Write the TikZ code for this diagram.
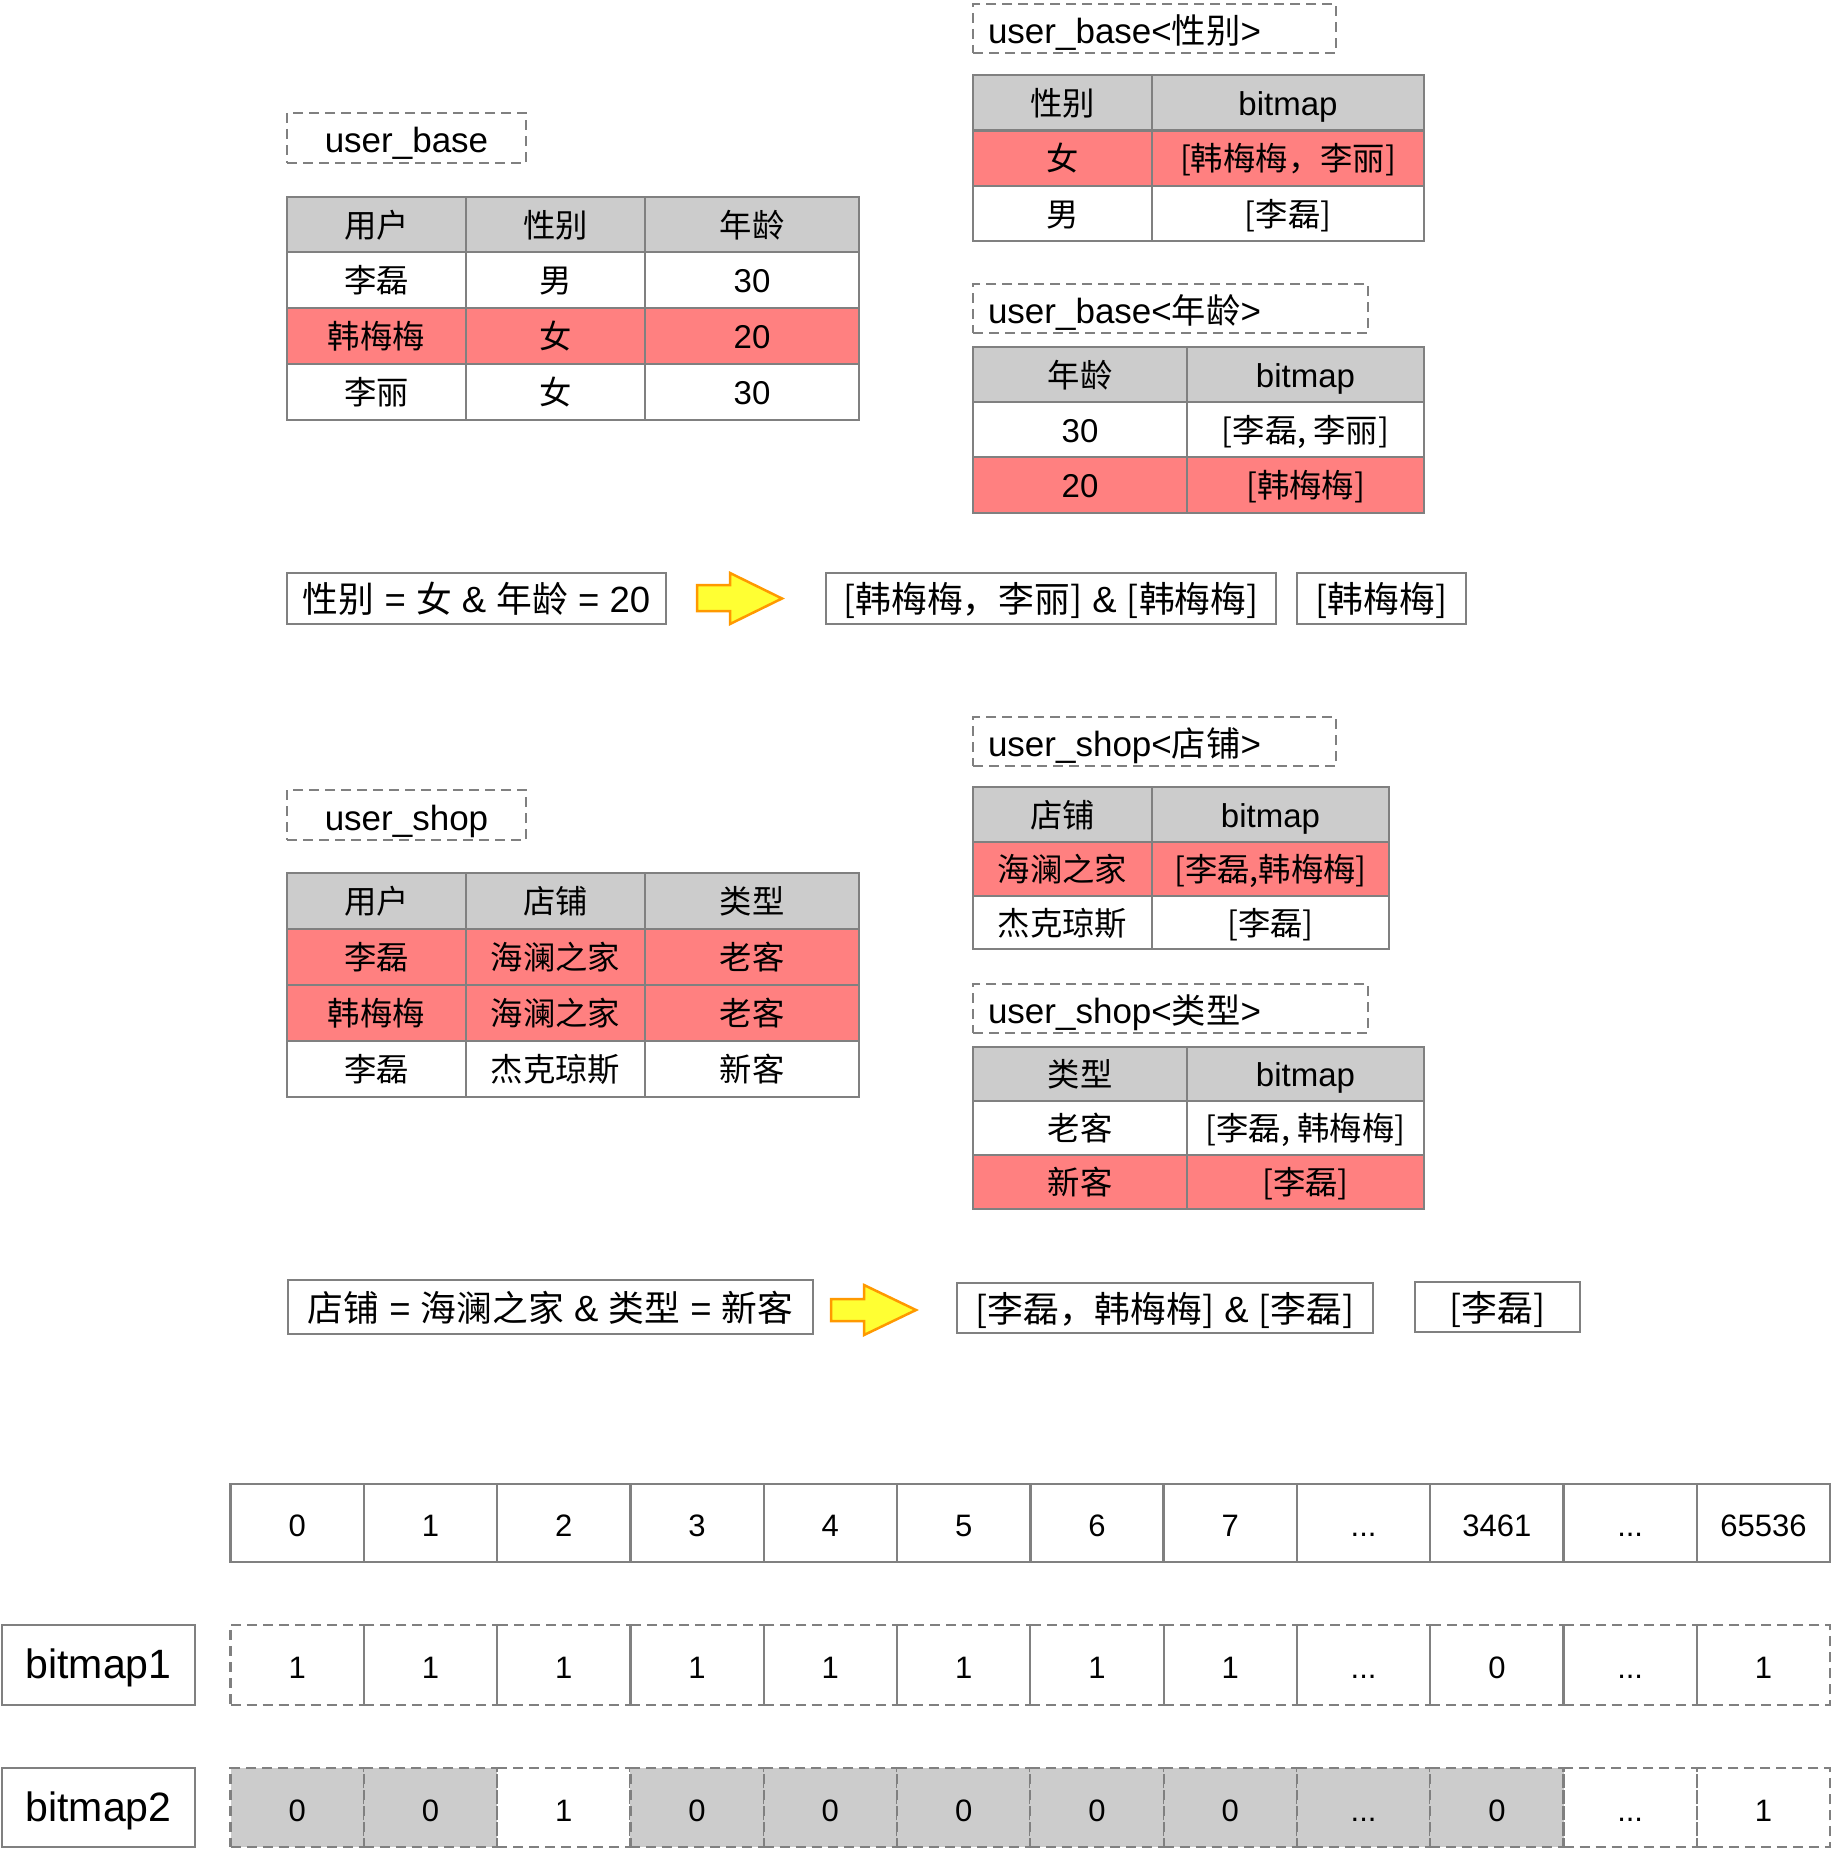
\documentclass[tikz,border=0pt]{standalone}
\usepackage{fontspec}
\setmainfont{Liberation Sans}
\newfontfamily\zhfont{Noto Sans CJK SC}[Scale=0.98]
\definecolor{lineg}{HTML}{808080}
\definecolor{hdrg}{HTML}{CCCCCC}
\definecolor{hotr}{HTML}{FF8080}
\definecolor{arrowy}{HTML}{FFFF33}
\definecolor{arrowo}{HTML}{FF9900}
\newcommand\zht[1]{{\zhfont #1}}
\newcommand\tfs{\fontsize{33}{38}\selectfont}
\newcommand\lfs{\fontsize{35}{40}\selectfont}
\newcommand\qfs{\fontsize{36.5}{42}\selectfont}
\newcommand\bfs{\fontsize{31}{36}\selectfont}
\newcommand\mfs{\fontsize{41}{47}\selectfont}
\tikzset{
  cellbase/.style={draw=lineg, line width=2.4pt, inner sep=0pt, outer sep=0pt, anchor=north west, text=black},
  tcell/.style={cellbase, font=\tfs, fill=white, text height=25pt, text depth=0pt},
  thdr/.style={tcell, fill=hdrg},
  thot/.style={tcell, fill=hotr},
  dashbase/.style={draw=lineg, line width=2.2pt, dash pattern=on 10pt off 6pt, inner sep=0pt, outer sep=0pt, anchor=north west, text=black},
  dlabel/.style={dashbase, font=\lfs, text height=30pt, text depth=0pt},
  qbox/.style={cellbase, font=\qfs, fill=white, text height=28.5pt, text depth=0pt},
  bidx/.style={cellbase, font=\bfs, fill=white, text height=27.3pt, text depth=0pt},
  bbit/.style={dashbase, font=\bfs, text height=27.3pt, text depth=0pt},
  bbitg/.style={bbit, fill=hdrg},
  bname/.style={cellbase, font=\mfs, fill=white, text height=27.5pt, text depth=0pt},
  bigarrow/.style={fill=arrowy, draw=arrowo, line width=2.5pt, line join=miter},
}
% generic cell: style, name, x1, y1, x2, y2, text
\newcommand\cellat[7]{\node[#1, minimum width={#5-#3}, minimum height={#6-#4}] (#2) at (#3,#4) {#7};}
% left-aligned dashed label: name, x1, y1, x2, y2, text
\newcommand\rlabel[6]{\node[dlabel, inner xsep=15pt, minimum height={#5-#3}] (#1) at (#2,#3) {\makebox[\dimexpr #4pt-#2pt-30pt\relax][l]{#6}};}
% bitmap cell: style, name, index, y1, y2, text
\newcommand\bcell[6]{\node[#1, minimum width=133.3, minimum height={#5-#4}] (#2) at ({230.5+133.3*#3},#4) {#6};}
\begin{document}
\begin{tikzpicture}[x=1pt,y=-1pt]
\useasboundingbox (0,0) rectangle (1833,1849);
\fill[white] (0,0) rectangle (1833,1849);

% ---------- user_base ----------
\cellat{dlabel}{lbUB}{287}{113}{526}{163}{user\_base}
\cellat{thdr}{ub00}{287}{197}{466}{252}{\zht{用户}}
\cellat{thdr}{ub01}{466}{197}{645}{252}{\zht{性别}}
\cellat{thdr}{ub02}{645}{197}{859}{252}{\zht{年龄}}
\cellat{tcell}{ub10}{287}{252}{466}{308}{\zht{李磊}}
\cellat{tcell}{ub11}{466}{252}{645}{308}{\zht{男}}
\cellat{tcell}{ub12}{645}{252}{859}{308}{30}
\cellat{thot}{ub20}{287}{308}{466}{364}{\zht{韩梅梅}}
\cellat{thot}{ub21}{466}{308}{645}{364}{\zht{女}}
\cellat{thot}{ub22}{645}{308}{859}{364}{20}
\cellat{tcell}{ub30}{287}{364}{466}{420}{\zht{李丽}}
\cellat{tcell}{ub31}{466}{364}{645}{420}{\zht{女}}
\cellat{tcell}{ub32}{645}{364}{859}{420}{30}

% ---------- user_base<性别> ----------
\rlabel{lbSex}{973}{4}{1336}{53}{user\_base<\zht{性别}>}
\cellat{thdr}{sx00}{973}{75}{1152}{130.5}{\zht{性别}}
\cellat{thdr}{sx01}{1152}{75}{1424}{130.5}{bitmap}
\cellat{thot}{sx10}{973}{130.5}{1152}{186}{\zht{女}}
\cellat{thot}{sx11}{1152}{130.5}{1424}{186}{\zht{[韩梅梅，李丽]}}
\cellat{tcell}{sx20}{973}{186}{1152}{241}{\zht{男}}
\cellat{tcell}{sx21}{1152}{186}{1424}{241}{\zht{[李磊]}}

% ---------- user_base<年龄> ----------
\rlabel{lbAge}{973}{284}{1368}{333}{user\_base<\zht{年龄}>}
\cellat{thdr}{ag00}{973}{347}{1187}{402}{\zht{年龄}}
\cellat{thdr}{ag01}{1187}{347}{1424}{402}{bitmap}
\cellat{tcell}{ag10}{973}{402}{1187}{457}{30}
\cellat{tcell}{ag11}{1187}{402}{1424}{457}{\zht{[李磊, 李丽]}}
\cellat{thot}{ag20}{973}{457}{1187}{513}{20}
\cellat{thot}{ag21}{1187}{457}{1424}{513}{\zht{[韩梅梅]}}

% ---------- query 1 ----------
\cellat{qbox}{q1}{287}{573}{666}{624}{\zht{性别} = \zht{女} \& \zht{年龄} = 20}
\draw[bigarrow] (697,585) -- (730,585) -- (730,573) -- (782,598.5) -- (730,624) -- (730,611) -- (697,611) -- cycle;
\cellat{qbox}{r1}{826}{573}{1276}{624}{\zht{[韩梅梅，李丽]} \& \zht{[韩梅梅]}}
\cellat{qbox}{s1}{1297}{573}{1466}{624}{\zht{[韩梅梅]}}

% ---------- user_shop ----------
\cellat{dlabel}{lbUS}{287}{790}{526}{840}{user\_shop}
\cellat{thdr}{us00}{287}{873}{466}{929}{\zht{用户}}
\cellat{thdr}{us01}{466}{873}{645}{929}{\zht{店铺}}
\cellat{thdr}{us02}{645}{873}{859}{929}{\zht{类型}}
\cellat{thot}{us10}{287}{929}{466}{985}{\zht{李磊}}
\cellat{thot}{us11}{466}{929}{645}{985}{\zht{海澜之家}}
\cellat{thot}{us12}{645}{929}{859}{985}{\zht{老客}}
\cellat{thot}{us20}{287}{985}{466}{1041}{\zht{韩梅梅}}
\cellat{thot}{us21}{466}{985}{645}{1041}{\zht{海澜之家}}
\cellat{thot}{us22}{645}{985}{859}{1041}{\zht{老客}}
\cellat{tcell}{us30}{287}{1041}{466}{1097}{\zht{李磊}}
\cellat{tcell}{us31}{466}{1041}{645}{1097}{\zht{杰克琼斯}}
\cellat{tcell}{us32}{645}{1041}{859}{1097}{\zht{新客}}

% ---------- user_shop<店铺> ----------
\rlabel{lbShop}{973}{717}{1336}{766}{user\_shop<\zht{店铺}>}
\cellat{thdr}{sh00}{973}{787}{1152}{842}{\zht{店铺}}
\cellat{thdr}{sh01}{1152}{787}{1389}{842}{bitmap}
\cellat{thot}{sh10}{973}{842}{1152}{896}{\zht{海澜之家}}
\cellat{thot}{sh11}{1152}{842}{1389}{896}{\zht{[李磊,韩梅梅]}}
\cellat{tcell}{sh20}{973}{896}{1152}{949}{\zht{杰克琼斯}}
\cellat{tcell}{sh21}{1152}{896}{1389}{949}{\zht{[李磊]}}

% ---------- user_shop<类型> ----------
\rlabel{lbType}{973}{984}{1368}{1033}{user\_shop<\zht{类型}>}
\cellat{thdr}{ty00}{973}{1047}{1187}{1101}{\zht{类型}}
\cellat{thdr}{ty01}{1187}{1047}{1424}{1101}{bitmap}
\cellat{tcell}{ty10}{973}{1101}{1187}{1155}{\zht{老客}}
\cellat{tcell}{ty11}{1187}{1101}{1424}{1155}{\zht{[李磊, 韩梅梅]}}
\cellat{thot}{ty20}{973}{1155}{1187}{1209}{\zht{新客}}
\cellat{thot}{ty21}{1187}{1155}{1424}{1209}{\zht{[李磊]}}

% ---------- query 2 ----------
\cellat{qbox}{q2}{288}{1280}{813}{1334}{\zht{店铺} = \zht{海澜之家} \& \zht{类型} = \zht{新客}}
\draw[bigarrow] (831,1299) -- (864,1299) -- (864,1285) -- (916,1310) -- (864,1335) -- (864,1321) -- (831,1321) -- cycle;
\cellat{qbox}{r2}{957}{1283}{1373}{1333}{\zht{[李磊，韩梅梅]} \& \zht{[李磊]}}
\cellat{qbox}{s2}{1415}{1282}{1580}{1332}{\zht{[李磊]}}

% ---------- bitmap index row ----------
\bcell{bidx}{ix0}{0}{1484}{1562}{0}
\bcell{bidx}{ix1}{1}{1484}{1562}{1}
\bcell{bidx}{ix2}{2}{1484}{1562}{2}
\bcell{bidx}{ix3}{3}{1484}{1562}{3}
\bcell{bidx}{ix4}{4}{1484}{1562}{4}
\bcell{bidx}{ix5}{5}{1484}{1562}{5}
\bcell{bidx}{ix6}{6}{1484}{1562}{6}
\bcell{bidx}{ix7}{7}{1484}{1562}{7}
\bcell{bidx}{ix8}{8}{1484}{1562}{...}
\bcell{bidx}{ix9}{9}{1484}{1562}{3461}
\bcell{bidx}{ix10}{10}{1484}{1562}{...}
\bcell{bidx}{ix11}{11}{1484}{1562}{65536}

% ---------- bitmap1 ----------
\cellat{bname}{bm1}{2}{1625}{195}{1705}{bitmap1}
\bcell{bbit}{a0}{0}{1625}{1705}{1}
\bcell{bbit}{a1}{1}{1625}{1705}{1}
\bcell{bbit}{a2}{2}{1625}{1705}{1}
\bcell{bbit}{a3}{3}{1625}{1705}{1}
\bcell{bbit}{a4}{4}{1625}{1705}{1}
\bcell{bbit}{a5}{5}{1625}{1705}{1}
\bcell{bbit}{a6}{6}{1625}{1705}{1}
\bcell{bbit}{a7}{7}{1625}{1705}{1}
\bcell{bbit}{a8}{8}{1625}{1705}{...}
\bcell{bbit}{a9}{9}{1625}{1705}{0}
\bcell{bbit}{a10}{10}{1625}{1705}{...}
\bcell{bbit}{a11}{11}{1625}{1705}{1}

% ---------- bitmap2 ----------
\cellat{bname}{bm2}{2}{1768}{195}{1847}{bitmap2}
\bcell{bbitg}{b0}{0}{1768}{1847}{0}
\bcell{bbitg}{b1}{1}{1768}{1847}{0}
\bcell{bbit}{b2}{2}{1768}{1847}{1}
\bcell{bbitg}{b3}{3}{1768}{1847}{0}
\bcell{bbitg}{b4}{4}{1768}{1847}{0}
\bcell{bbitg}{b5}{5}{1768}{1847}{0}
\bcell{bbitg}{b6}{6}{1768}{1847}{0}
\bcell{bbitg}{b7}{7}{1768}{1847}{0}
\bcell{bbitg}{b8}{8}{1768}{1847}{...}
\bcell{bbitg}{b9}{9}{1768}{1847}{0}
\bcell{bbit}{b10}{10}{1768}{1847}{...}
\bcell{bbit}{b11}{11}{1768}{1847}{1}
\end{tikzpicture}
\end{document}
